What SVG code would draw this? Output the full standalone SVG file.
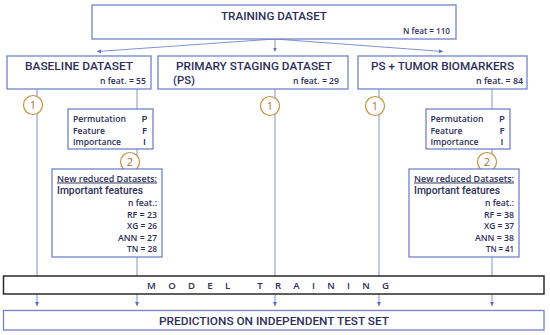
<svg xmlns="http://www.w3.org/2000/svg" width="550" height="335" viewBox="0 0 550 335">
<style>
.box{fill:#fff;stroke:#7083c9;stroke-width:1.3}
.blk{fill:#fff;stroke:#2a2a2a;stroke-width:1.5}
.ln{stroke:#8092d2;stroke-width:1;fill:none}
.t{font-family:Roboto,"Liberation Sans",sans-serif;fill:#2b2e5a}
.h{font-size:11.8px;font-weight:500}
.s{font-family:"Open Sans","Liberation Sans",sans-serif;font-size:9.6px;font-weight:600}
.c{fill:#fff;stroke:#c8923e;stroke-width:1.2}
.ct{font-family:"Open Sans","Liberation Sans",sans-serif;font-size:11px;fill:#b0702c;text-anchor:middle}
</style>
<defs>
<marker id="ah" viewBox="0 0 6 6" refX="6" refY="3" markerWidth="4" markerHeight="4" orient="auto">
<path d="M0,0L6,3L0,6z" fill="#5a6fc0"/>
</marker>
</defs>
<rect width="550" height="335" fill="#fff"/>
<g id="connectors">
<path class="ln" d="M275,39L97,51.5" marker-end="url(#ah)"/>
<path class="ln" d="M275,39L275,51.5" marker-end="url(#ah)"/>
<path class="ln" d="M275,39L443,51.5" marker-end="url(#ah)"/>
<path class="ln" d="M37,89V306" marker-end="url(#ah)"/>
<path class="ln" d="M275,89V306" marker-end="url(#ah)"/>
<path class="ln" d="M379,89V306" marker-end="url(#ah)"/>
<path class="ln" d="M137,89V109M137,149V169"/>
<path class="ln" d="M137,257V306" marker-end="url(#ah)"/>
<path class="ln" d="M492,89V109M492,149V169"/>
<path class="ln" d="M492,257V306" marker-end="url(#ah)"/>
</g>
<g id="training">
<rect class="box" x="92" y="5" width="364" height="34"/>
<text class="t h" x="221" y="20" textLength="106" lengthAdjust="spacingAndGlyphs">TRAINING DATASET</text>
<text class="t s" x="403" y="34" textLength="47" lengthAdjust="spacingAndGlyphs">N feat = 110</text>
</g>
<g id="baseline">
<rect class="box" x="7" y="56" width="144" height="33"/>
<text class="t h" x="25" y="70" textLength="108" lengthAdjust="spacingAndGlyphs">BASELINE DATASET</text>
<text class="t s" x="100" y="83.5" textLength="46" lengthAdjust="spacingAndGlyphs">n feat. = 55</text>
</g>
<g id="ps">
<rect class="box" x="158" y="56" width="190" height="33"/>
<text class="t h" x="176" y="70" textLength="156" lengthAdjust="spacingAndGlyphs">PRIMARY STAGING DATASET</text>
<text class="t h" x="173" y="84" textLength="22" lengthAdjust="spacingAndGlyphs">(PS)</text>
<text class="t s" x="293" y="83.5" textLength="46" lengthAdjust="spacingAndGlyphs">n feat. = 29</text>
</g>
<g id="pstumor">
<rect class="box" x="358" y="56" width="169" height="33"/>
<text class="t h" x="371" y="70" textLength="143" lengthAdjust="spacingAndGlyphs">PS + TUMOR BIOMARKERS</text>
<text class="t s" x="476" y="83.5" textLength="47" lengthAdjust="spacingAndGlyphs">n feat. = 84</text>
</g>
<g id="circle1a"><circle class="c" cx="33" cy="105" r="9.5"/><text class="ct" x="33" y="109">1</text></g>
<g id="circle1b"><circle class="c" cx="270" cy="106" r="9.5"/><text class="ct" x="270" y="110">1</text></g>
<g id="circle1c"><circle class="c" cx="375" cy="106" r="9.5"/><text class="ct" x="375" y="110">1</text></g>
<g id="pfi-left">
<rect class="box" x="68" y="109" width="85" height="40"/>
<text class="t s" x="73" y="122" textLength="53" lengthAdjust="spacingAndGlyphs">Permutation</text>
<text class="t s" x="73" y="133.5" textLength="32" lengthAdjust="spacingAndGlyphs">Feature</text>
<text class="t s" x="73" y="145" textLength="48" lengthAdjust="spacingAndGlyphs">Importance</text>
<text class="t s" x="144.5" y="122" text-anchor="middle" font-weight="700">P</text>
<text class="t s" x="144.5" y="133.5" text-anchor="middle" font-weight="700">F</text>
<text class="t s" x="144.5" y="145" text-anchor="middle" font-weight="700">I</text>
</g>
<g id="pfi-right">
<rect class="box" x="426" y="109" width="84" height="40"/>
<text class="t s" x="430.5" y="122" textLength="53" lengthAdjust="spacingAndGlyphs">Permutation</text>
<text class="t s" x="430.5" y="133.5" textLength="32" lengthAdjust="spacingAndGlyphs">Feature</text>
<text class="t s" x="430.5" y="145" textLength="48" lengthAdjust="spacingAndGlyphs">Importance</text>
<text class="t s" x="502" y="122" text-anchor="middle" font-weight="700">P</text>
<text class="t s" x="502" y="133.5" text-anchor="middle" font-weight="700">F</text>
<text class="t s" x="502" y="145" text-anchor="middle" font-weight="700">I</text>
</g>
<g id="circle2a"><circle class="c" cx="130" cy="162" r="9.5"/><text class="ct" x="130" y="166">2</text></g>
<g id="circle2b"><circle class="c" cx="487" cy="162" r="9.5"/><text class="ct" x="487" y="166">2</text></g>
<g id="reduced-left">
<rect class="box" x="52" y="169" width="110" height="88"/>
<text class="t s" x="57" y="181.5" text-decoration="underline" textLength="100" lengthAdjust="spacingAndGlyphs">New reduced Datasets:</text>
<text class="t h" x="57" y="194" textLength="86" lengthAdjust="spacingAndGlyphs">Important features</text>
<text class="t s" x="128" y="205.5" textLength="29" lengthAdjust="spacingAndGlyphs">n feat.:</text>
<text class="t s" x="127" y="217.5" textLength="30" lengthAdjust="spacingAndGlyphs">RF = 23</text>
<text class="t s" x="127" y="229" textLength="30" lengthAdjust="spacingAndGlyphs">XG = 26</text>
<text class="t s" x="118" y="240.5" textLength="39" lengthAdjust="spacingAndGlyphs">ANN = 27</text>
<text class="t s" x="127" y="252" textLength="30" lengthAdjust="spacingAndGlyphs">TN = 28</text>
</g>
<g id="reduced-right">
<rect class="box" x="409" y="169" width="110" height="88"/>
<text class="t s" x="414" y="181.5" text-decoration="underline" textLength="100" lengthAdjust="spacingAndGlyphs">New reduced Datasets:</text>
<text class="t h" x="414" y="194" textLength="86" lengthAdjust="spacingAndGlyphs">Important features</text>
<text class="t s" x="485" y="205.5" textLength="29" lengthAdjust="spacingAndGlyphs">n feat.:</text>
<text class="t s" x="484" y="217.5" textLength="30" lengthAdjust="spacingAndGlyphs">RF = 38</text>
<text class="t s" x="484" y="229" textLength="30" lengthAdjust="spacingAndGlyphs">XG = 37</text>
<text class="t s" x="475" y="240.5" textLength="39" lengthAdjust="spacingAndGlyphs">ANN = 38</text>
<text class="t s" x="486" y="252" textLength="28" lengthAdjust="spacingAndGlyphs">TN = 41</text>
</g>
<g id="model-training">
<rect class="blk" x="3.5" y="276" width="540.5" height="18"/>
<text class="t s" x="147" y="289" textLength="242" lengthAdjust="spacing" xml:space="preserve">M O D E L   T R A I N I N G</text>
</g>
<g id="predictions">
<rect class="box" x="3.5" y="310.5" width="540.5" height="19.5"/>
<text class="t" x="159" y="324.5" font-size="11.6" font-weight="500" textLength="230" lengthAdjust="spacingAndGlyphs">PREDICTIONS ON INDEPENDENT TEST SET</text>
</g>
</svg>
